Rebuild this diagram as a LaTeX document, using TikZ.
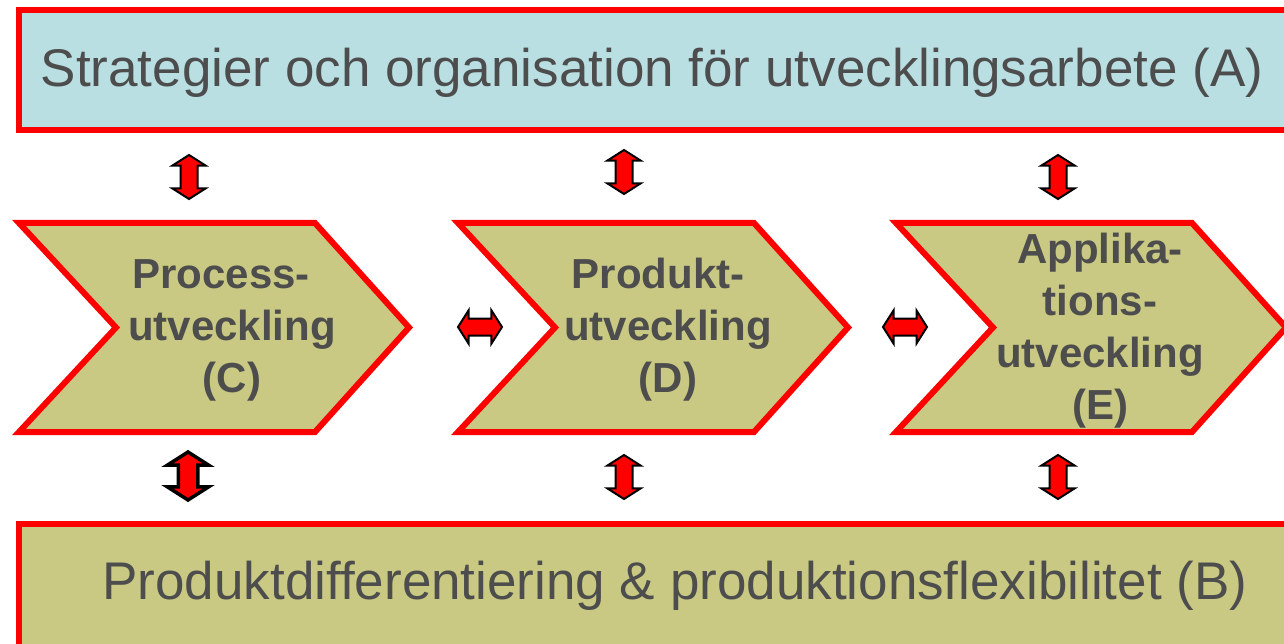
\documentclass[tikz,border=0pt]{standalone}
\usepackage{fontspec}
\setmainfont{Liberation Sans}
\usepackage{tikz}
\usetikzlibrary{shapes.arrows}

\definecolor{boxblue}{HTML}{B9DFE3}
\definecolor{olive}{HTML}{C9C983}
\definecolor{txtgrey}{HTML}{4D4D4D}

\begin{document}
\begin{tikzpicture}[x=1pt,y=-1pt,
        frame/.style={draw=red,line width=6pt,line join=miter},
        bigtext/.style={text=txtgrey,font=\fontsize{53}{60}\selectfont,inner sep=0pt},
        chevtext/.style={text=txtgrey,font=\fontsize{42}{52}\selectfont\bfseries,align=center,inner sep=0pt},
        dblarrow/.style={double arrow,draw=black,fill=red,line width=2pt,inner sep=0pt,
            minimum height=44pt,double arrow head extend=8pt,
            double arrow tip angle=115,double arrow head indent=0pt}]

  \useasboundingbox (0,0) rectangle (1284,644);
  \clip (0,0) rectangle (1284,644);

  % boxes A and B
  \draw[frame,fill=boxblue] (19,10) rectangle (1310,130);
  \node[bigtext] (strat) at (652,73) {Strategier och organisation för utvecklingsarbete (A)};

  \draw[frame,fill=olive] (19,524) rectangle (1310,660);
  \node[bigtext] (diff) at (675,586) {Produktdifferentiering \& produktionsflexibilitet (B)};

  % chevrons C, D, E
  \foreach \dx in {0,439,877}
    \draw[frame,fill=olive] (19+\dx,223) -- ++(296,0) -- ++(94,104.5) -- ++(-94,104.5)
        -- ++(-296,0) -- ++(97,-104.5) -- cycle;

  \node[chevtext] (procC) at (232,330) {Process-\hspace*{22pt}\\utveckling\\(C)};
  \node[chevtext] (prodD) at (668,330) {Produkt-\hspace*{20pt}\\utveckling\\(D)};
  \node[chevtext] (applE) at (1100,331) {Applika-\\tions-\\utveckling\\(E)};

  % double arrows
  \node[dblarrow,rotate=90] (ac) at (189,177) {\rule{0pt}{15pt}};
  \node[dblarrow,rotate=90] (ad) at (624,172) {\rule{0pt}{15pt}};
  \node[dblarrow,rotate=90] (ae) at (1058,177) {\rule{0pt}{15pt}};

  \node[dblarrow,rotate=90,line width=3.5pt,minimum height=48pt,
        double arrow head extend=11pt] (bc) at (188,476) {\rule{0pt}{16pt}};
  \node[dblarrow,rotate=90] (bd) at (624,477) {\rule{0pt}{15pt}};
  \node[dblarrow,rotate=90] (be) at (1058,477) {\rule{0pt}{15pt}};

  \node[dblarrow] (cd) at (480,327) {\rule{0pt}{15pt}};
  \node[dblarrow] (de) at (905,327) {\rule{0pt}{15pt}};

\end{tikzpicture}
\end{document}
